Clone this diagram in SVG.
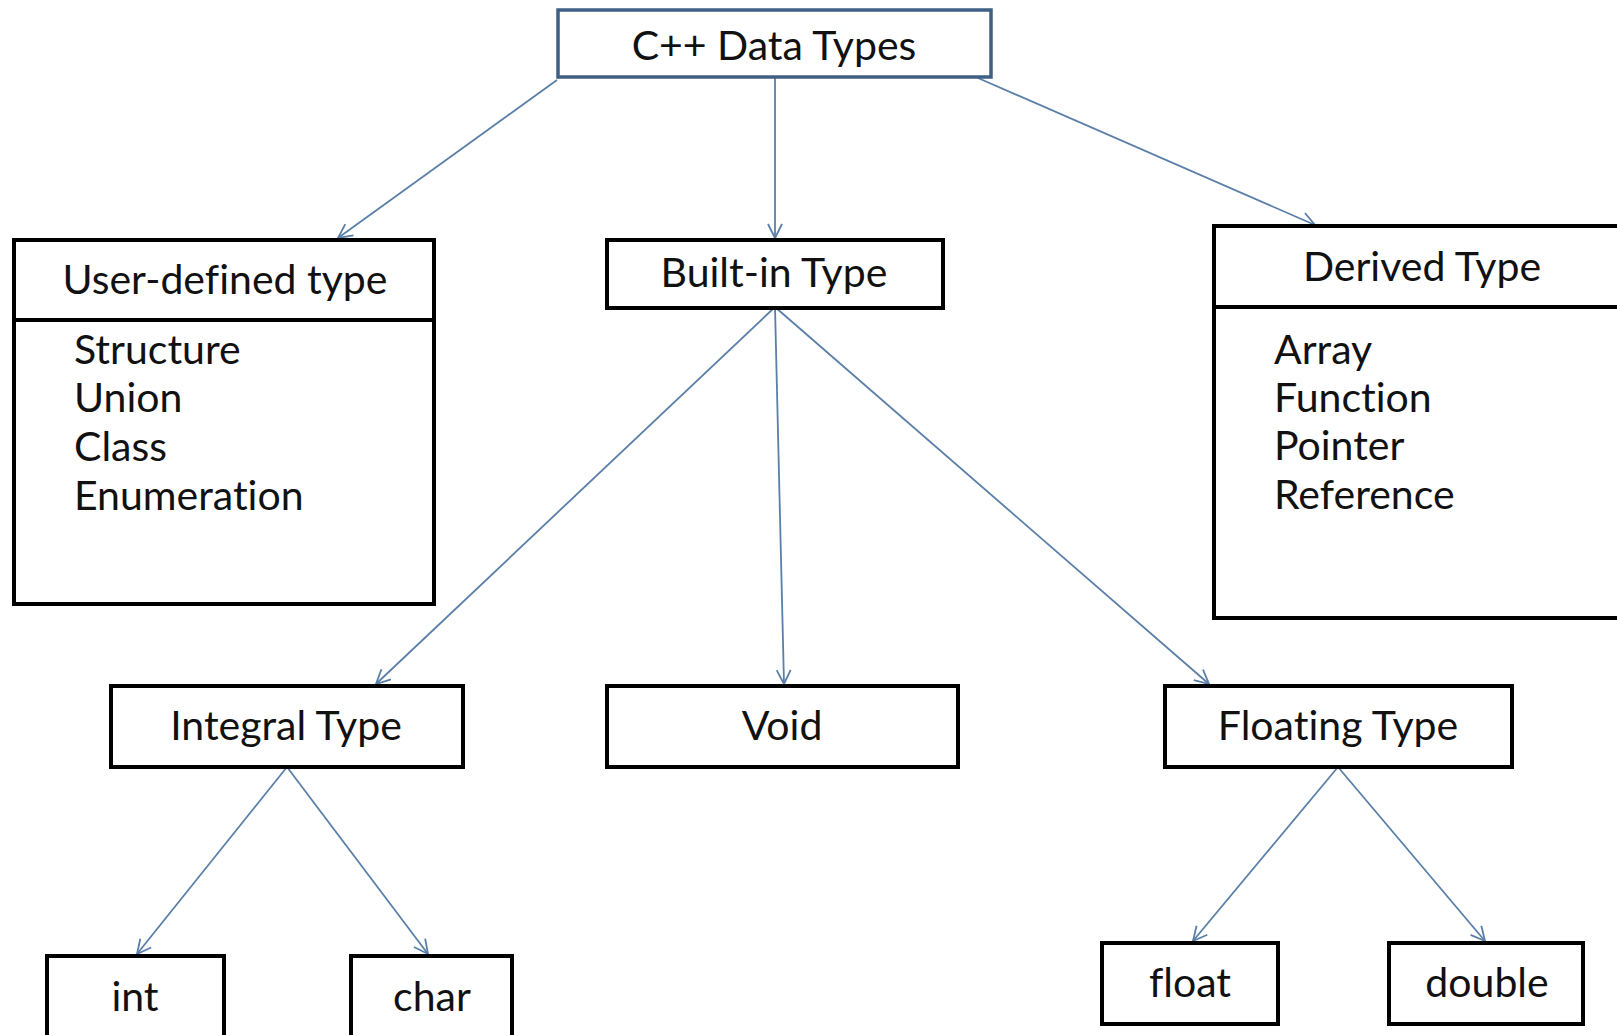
<svg xmlns="http://www.w3.org/2000/svg" width="1617" height="1035" viewBox="0 0 1617 1035">
<style>
.box{fill:#fff;stroke:#000;stroke-width:4}
.top{fill:#fff;stroke:#3f5f85;stroke-width:3.5}
.t{font-family:Lato,"Liberation Sans",sans-serif;font-size:41px;fill:#111;font-variant-ligatures:none;font-feature-settings:"liga" 0,"clig" 0,"dlig" 0}
.c{text-anchor:middle}
.ln{stroke:#5a7fa8;stroke-width:1.8;fill:none;marker-end:url(#arr)}
</style>
<defs>
<marker id="arr" viewBox="0 0 16 16" refX="15" refY="8" markerWidth="16" markerHeight="16" markerUnits="userSpaceOnUse" orient="auto">
<path d="M1,1 L15,8 L1,15" fill="none" stroke="#5a7fa8" stroke-width="1.8"/>
</marker>
</defs>
<rect width="1617" height="1035" fill="#fff"/>
<g id="connectors">
<line class="ln" x1="557" y1="80" x2="338" y2="238"/>
<line class="ln" x1="775" y1="78" x2="775" y2="238"/>
<line class="ln" x1="978" y1="78" x2="1315" y2="225"/>
<line class="ln" x1="775" y1="307" x2="376" y2="684"/>
<line class="ln" x1="775" y1="307" x2="784" y2="684"/>
<line class="ln" x1="775" y1="307" x2="1209" y2="684"/>
<line class="ln" x1="287" y1="767" x2="137" y2="954"/>
<line class="ln" x1="287" y1="767" x2="428" y2="954"/>
<line class="ln" x1="1338" y1="767" x2="1193" y2="941"/>
<line class="ln" x1="1338" y1="767" x2="1485" y2="941"/>
</g>
<g id="n-root">
<rect class="top" x="558" y="10" width="433" height="67"/>
<text class="t c" x="774" y="60">C++ Data Types</text>
</g>
<g id="n-user">
<rect class="box" x="14" y="240" width="420" height="364"/>
<line x1="14" y1="320" x2="434" y2="320" stroke="#000" stroke-width="4"/>
<text class="t c" x="225" y="294">User-defined type</text>
<text class="t" x="74" y="364">Structure</text>
<text class="t" x="74" y="412">Union</text>
<text class="t" x="74" y="461">Class</text>
<text class="t" x="74" y="510">Enumeration</text>
</g>
<g id="n-builtin">
<rect class="box" x="607" y="240" width="336" height="68"/>
<text class="t c" x="774" y="287">Built-in Type</text>
</g>
<g id="n-derived">
<rect class="box" x="1214" y="226" width="420" height="392"/>
<line x1="1214" y1="307" x2="1617" y2="307" stroke="#000" stroke-width="4"/>
<text class="t c" x="1422" y="281">Derived Type</text>
<text class="t" x="1274" y="364">Array</text>
<text class="t" x="1274" y="412">Function</text>
<text class="t" x="1274" y="460">Pointer</text>
<text class="t" x="1274" y="509">Reference</text>
</g>
<g id="n-integral">
<rect class="box" x="111" y="686" width="352" height="81"/>
<text class="t c" x="286" y="740">Integral Type</text>
</g>
<g id="n-void">
<rect class="box" x="607" y="686" width="351" height="81"/>
<text class="t c" x="782" y="740">Void</text>
</g>
<g id="n-floating">
<rect class="box" x="1165" y="686" width="347" height="81"/>
<text class="t c" x="1338" y="740">Floating Type</text>
</g>
<g id="n-int">
<rect class="box" x="47" y="956" width="177" height="90"/>
<text class="t c" x="135" y="1011">int</text>
</g>
<g id="n-char">
<rect class="box" x="351" y="956" width="161" height="90"/>
<text class="t c" x="432" y="1011">char</text>
</g>
<g id="n-float">
<rect class="box" x="1102" y="943" width="176" height="81"/>
<text class="t c" x="1190" y="997">float</text>
</g>
<g id="n-double">
<rect class="box" x="1389" y="943" width="194" height="81"/>
<text class="t c" x="1487" y="997">double</text>
</g>
</svg>
